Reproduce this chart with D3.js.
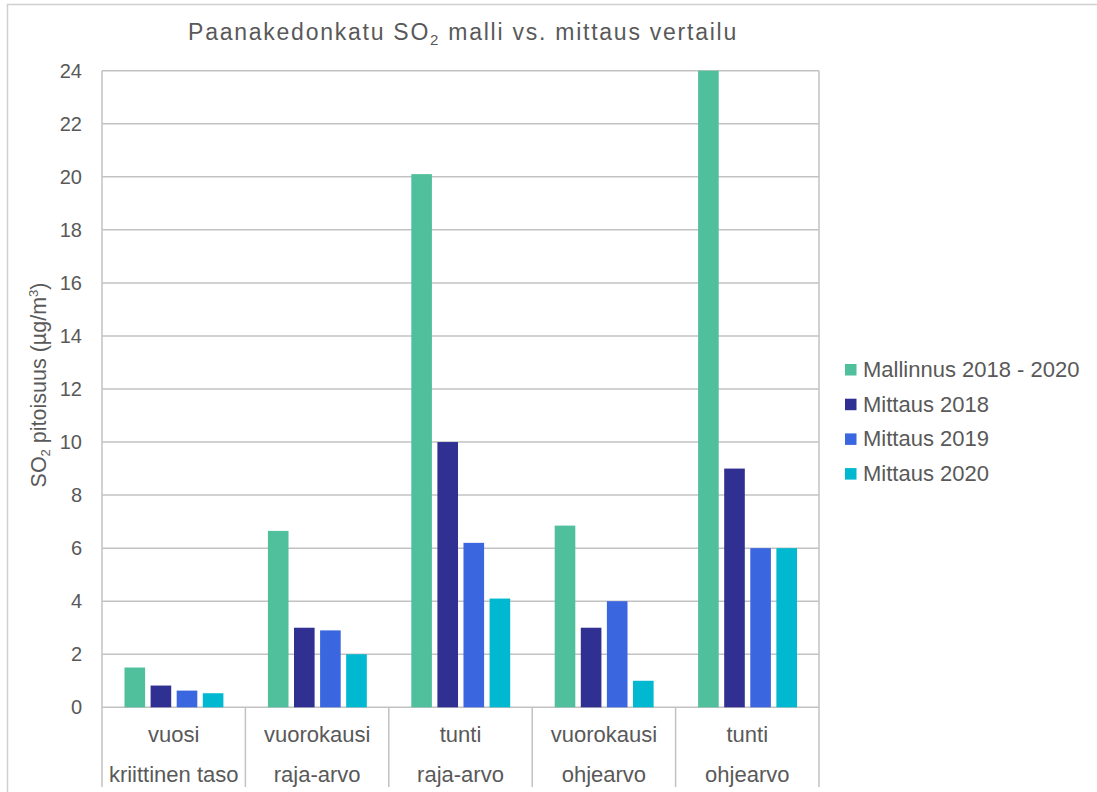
<!DOCTYPE html>
<html>
<head>
<meta charset="utf-8">
<script src="https://cdn.jsdelivr.net/npm/d3@7"></script>
<style>
  body { margin: 0; background: #fff; }
  text { font-family: "Liberation Sans", Arial, sans-serif; fill: #595959; }
</style>
</head>
<body>
<svg id="chart" width="1097" height="792"></svg>
<script>
// Category labels (two lines each)
const categoryTop = ["vuosi", "vuorokausi", "tunti", "vuorokausi", "tunti"];
const categoryBottom = ["kriittinen taso", "raja-arvo", "raja-arvo", "ohjearvo", "ohjearvo"];

// Series
const seriesNames = ["Mallinnus 2018 - 2020", "Mittaus 2018", "Mittaus 2019", "Mittaus 2020"];
const mallinnus = [1.5, 6.65, 20.1, 6.85, 24.0];
const mittaus2018 = [0.82, 3.0, 10.0, 3.0, 9.0];
const mittaus2019 = [0.63, 2.9, 6.2, 4.0, 6.0];
const mittaus2020 = [0.53, 2.0, 4.1, 1.0, 6.0];
const seriesColors = ["#50bf9c", "#303092", "#3a66e0", "#00b8cf"];

// Y axis ticks
const yTicks = [0, 2, 4, 6, 8, 10, 12, 14, 16, 18, 20, 22, 24];

const seriesValues = [mallinnus, mittaus2018, mittaus2019, mittaus2020];

const svg = d3.select("#chart");
const plot = { left: 102, right: 819, top: 70.7, bottom: 707.3, labelBottom: 787 };
const gridColor = "#c2c2c2";

// Outer chart frame
svg.append("path")
  .attr("d", "M7.5,792 V4.5 H1097")
  .attr("fill", "none")
  .attr("stroke", "#d0d0d0")
  .attr("stroke-width", 1.5);

const x0 = d3.scaleBand()
  .domain(d3.range(categoryTop.length))
  .range([plot.left, plot.right])
  .paddingInner(0).paddingOuter(0);

const x1 = d3.scaleBand()
  .domain(d3.range(seriesNames.length))
  .range([22.5, x0.bandwidth() - 22])
  .paddingInner(0.21).paddingOuter(0);

const y = d3.scaleLinear()
  .domain([0, 24])
  .range([plot.bottom, plot.top]);

// Horizontal gridlines
svg.append("g")
  .selectAll("line")
  .data(yTicks)
  .join("line")
  .attr("x1", plot.left)
  .attr("x2", plot.right)
  .attr("y1", d => y(d))
  .attr("y2", d => y(d))
  .attr("stroke", gridColor)
  .attr("stroke-width", 1.5);

// Vertical frame lines and category dividers
const dividers = d3.range(categoryTop.length + 1).map(i => plot.left + i * x0.bandwidth());
svg.append("g")
  .selectAll("line")
  .data(dividers)
  .join("line")
  .attr("x1", d => d)
  .attr("x2", d => d)
  .attr("y1", (d, i) => (i === 0 || i === dividers.length - 1) ? plot.top : plot.bottom)
  .attr("y2", plot.labelBottom)
  .attr("stroke", gridColor)
  .attr("stroke-width", 1.5);

// Y tick labels
const yAxis = svg.append("g")
  .attr("transform", `translate(${plot.left},0)`)
  .call(d3.axisLeft(y).tickValues(yTicks).tickSize(0).tickPadding(20));
yAxis.select(".domain").remove();
yAxis.selectAll("text")
  .attr("font-size", 20)
  .attr("font-family", "\"Liberation Sans\", Arial, sans-serif")
  .style("fill", "#595959");

// Bars
const groups = svg.append("g")
  .selectAll("g")
  .data(d3.range(categoryTop.length))
  .join("g")
  .attr("transform", i => `translate(${x0(i)},0)`);

groups.selectAll("rect")
  .data(ci => seriesValues.map((vals, si) => ({ si, v: vals[ci] })))
  .join("rect")
  .attr("x", d => x1(d.si))
  .attr("width", x1.bandwidth())
  .attr("y", d => y(d.v))
  .attr("height", d => y(0) - y(d.v))
  .attr("fill", d => seriesColors[d.si]);

// Category labels
const catLabels = svg.append("g")
  .selectAll("g")
  .data(d3.range(categoryTop.length))
  .join("g")
  .attr("transform", i => `translate(${x0(i) + x0.bandwidth() / 2},0)`);
catLabels.append("text")
  .attr("y", 742)
  .attr("text-anchor", "middle")
  .attr("font-size", 22)
  .text(i => categoryTop[i]);
catLabels.append("text")
  .attr("y", 782)
  .attr("text-anchor", "middle")
  .attr("font-size", 22)
  .text(i => categoryBottom[i]);

// Title
const title = svg.append("text")
  .attr("x", 463)
  .attr("y", 40)
  .attr("text-anchor", "middle")
  .attr("font-size", 23)
  .attr("letter-spacing", 1.75);
title.append("tspan").text("Paanakedonkatu SO");
title.append("tspan").attr("font-size", 15).attr("dy", 5).text("2");
title.append("tspan").attr("dy", -5).text(" malli vs. mittaus vertailu");

// Y axis title
const yTitle = svg.append("text")
  .attr("transform", `translate(46,${(plot.top + plot.bottom) / 2 - 4}) rotate(-90)`)
  .attr("text-anchor", "middle")
  .attr("font-size", 21.5);
yTitle.append("tspan").text("SO");
yTitle.append("tspan").attr("font-size", 13).attr("dy", 4).text("2");
yTitle.append("tspan").attr("dy", -4).text(" pitoisuus (µg/m");
yTitle.append("tspan").attr("font-size", 13).attr("dy", -8).text("3");
yTitle.append("tspan").attr("dy", 8).text(")");

// Legend
const legend = svg.append("g")
  .selectAll("g")
  .data(seriesNames)
  .join("g")
  .attr("transform", (d, i) => `translate(845,${369.5 + i * 34.7})`);
legend.append("rect")
  .attr("x", 0)
  .attr("y", -5.5)
  .attr("width", 11.5)
  .attr("height", 11.5)
  .attr("fill", (d, i) => seriesColors[i]);
legend.append("text")
  .attr("x", 18)
  .attr("y", 7.5)
  .attr("font-size", 22)
  .text(d => d);
</script>
</body>
</html>
